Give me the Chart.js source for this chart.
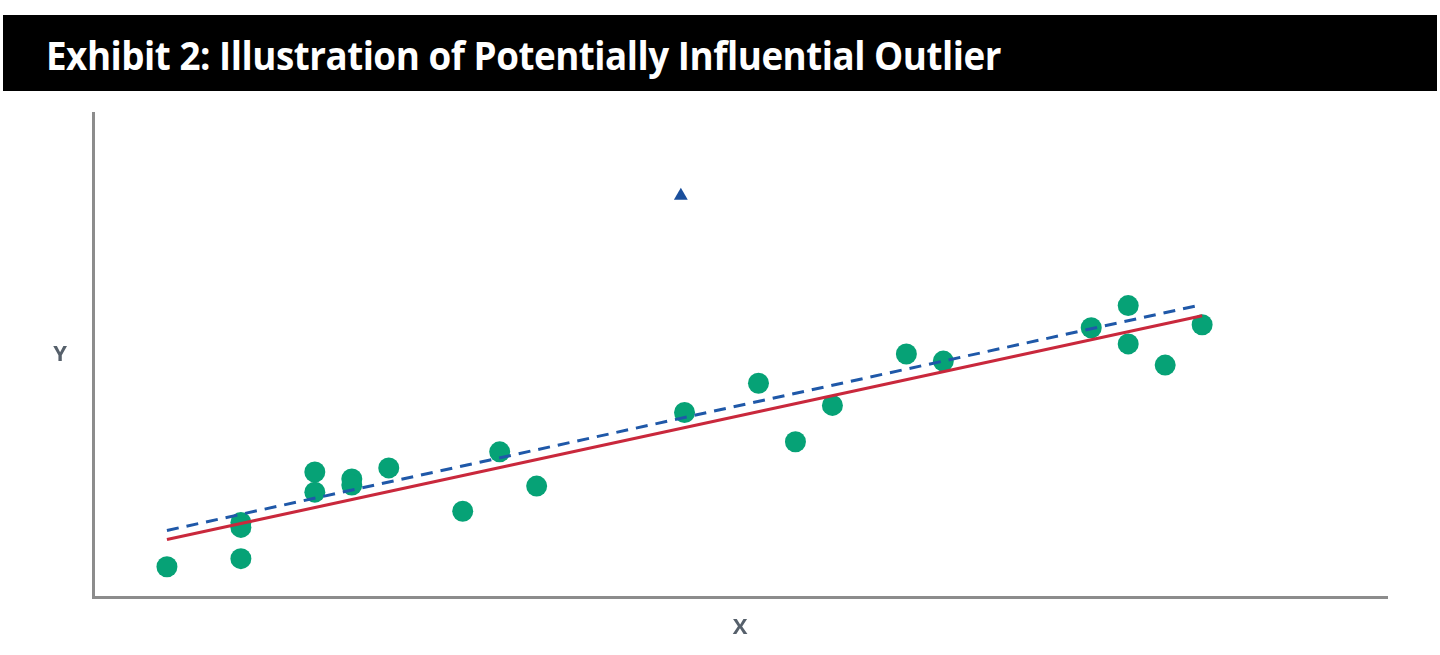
<!DOCTYPE html>
<html>
<head>
<meta charset="utf-8">
<script src="https://cdn.jsdelivr.net/npm/chart.js@4.4.1/dist/chart.umd.min.js"></script>
<style>
  body { margin: 0; background: #fff; }
  #wrap { position: relative; width: 1440px; height: 655px; }
  #c { position: absolute; left: 0; top: 0; }
  #bar { position: absolute; left: 3px; top: 15px; width: 1434px; height: 76px; background: #000; overflow: hidden; }
  #bar span { position: absolute; left: 43px; top: 2px; font: bold 39px "Open Sans", sans-serif; line-height: 76px;
              color: #fff; white-space: nowrap; transform-origin: 0 50%; letter-spacing: -0.5px; }
</style>
</head>
<body>
<div id="wrap">
  <canvas id="c" width="1440" height="655"></canvas>
  <div id="bar"><span id="title">Exhibit 2: Illustration of Potentially Influential Outlier</span></div>
</div>
<script>
// observations (arbitrary units)
const dotX = [2, 4, 4, 4, 6, 6, 7, 7, 8, 10, 11, 12, 16, 18, 19, 20, 22, 23, 27, 28, 28, 29, 30];
const dotY = [3.0, 3.8, 7.4, 6.9, 12.4, 10.4, 11.7, 11.1, 12.8, 8.5, 14.4, 11.0, 18.3, 21.2, 15.4, 19.0, 24.1, 23.4, 26.7, 28.9, 25.1, 23.0, 27.0];

// the potentially influential outlier
const outlierX = [15.9];
const outlierY = [39.8];

// fitted lines
const fitX = [2, 30];
const fitWithOutlier = [6.6, 29.0];
const fitWithoutOutlier = [5.7, 27.9];

const xTitle = 'X';
const yTitle = 'Y';

const pts = (xs, ys) => xs.map((x, i) => ({x: x, y: ys[i]}));

// squeeze the title to the width it has in the exhibit
const t = document.getElementById('title');
t.style.transform = 'scaleX(' + (955 / t.getBoundingClientRect().width) + ')';

const axisLetters = {
    id: 'axisLetters',
    afterDraw(chart) {
        const {ctx, chartArea: a} = chart;
        ctx.save();
        ctx.font = 'bold 22px "Open Sans"';
        ctx.fillStyle = '#56606b';
        ctx.textAlign = 'center';
        ctx.textBaseline = 'middle';
        ctx.fillText(yTitle, a.left - 33, (a.top + a.bottom) / 2);
        ctx.fillText(xTitle, (a.left + a.right) / 2, a.bottom + 31);
        ctx.restore();
    }
};

new Chart(document.getElementById('c'), {
    type: 'scatter',
    data: {
        datasets: [
            {
                label: 'Fit with outlier',
                data: pts(fitX, fitWithOutlier),
                showLine: true,
                borderColor: '#1f58a8',
                borderWidth: 3,
                borderDash: [12, 8],
                pointRadius: 0,
                order: 0
            },
            {
                label: 'Fit without outlier',
                data: pts(fitX, fitWithoutOutlier),
                showLine: true,
                borderColor: '#c9283c',
                borderWidth: 3,
                pointRadius: 0,
                order: 1
            },
            {
                label: 'Outlier',
                data: pts(outlierX, outlierY),
                pointStyle: 'triangle',
                pointRadius: 8,
                backgroundColor: '#1a4f9c',
                borderColor: '#1a4f9c',
                borderWidth: 0,
                order: 2
            },
            {
                label: 'Observations',
                data: pts(dotX, dotY),
                pointRadius: 10.5,
                backgroundColor: '#06a276',
                borderColor: '#06a276',
                borderWidth: 0,
                order: 3
            }
        ]
    },
    options: {
        responsive: false,
        animation: false,
        layout: {padding: {left: 93, right: 53, top: 113, bottom: 58}},
        plugins: {
            legend: {display: false},
            tooltip: {enabled: false}
        },
        scales: {
            x: {
                min: 0,
                max: 35,
                ticks: {display: false},
                grid: {display: false, drawTicks: false},
                border: {display: true, color: '#8c8c8c', width: 3},
                afterFit: s => { s.height = 0; }
            },
            y: {
                min: 0,
                max: 48,
                ticks: {display: false},
                grid: {display: false, drawTicks: false},
                border: {display: true, color: '#8c8c8c', width: 3},
                afterFit: s => { s.width = 0; }
            }
        }
    },
    plugins: [axisLetters]
});
</script>
</body>
</html>
